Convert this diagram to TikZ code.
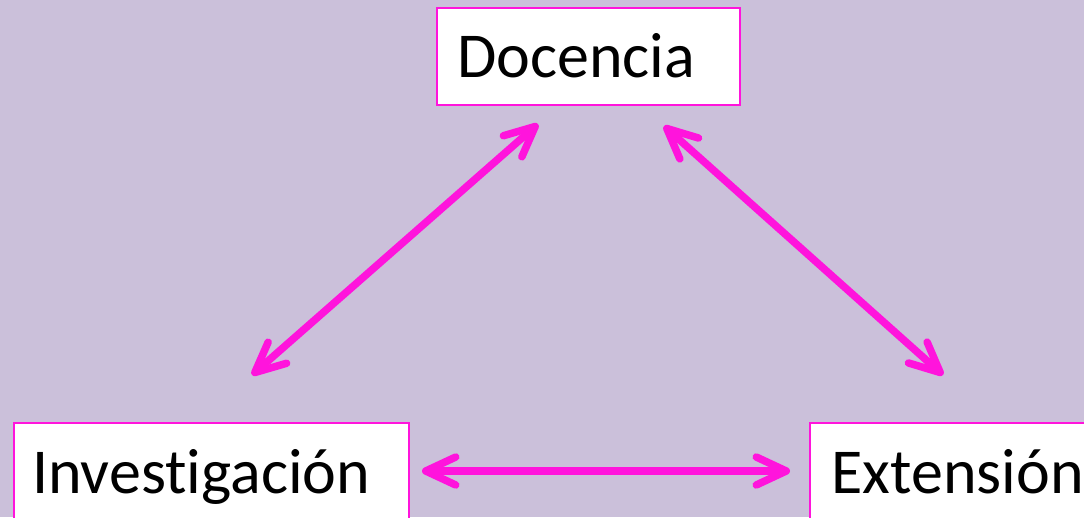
\documentclass[tikz,border=0pt]{standalone}
\usepackage{fontspec}
\setmainfont{Carlito}[Ligatures=NoCommon]
\usetikzlibrary{arrows.meta}
\definecolor{bg}{HTML}{CBC0DA}
\definecolor{mag}{HTML}{FF14DC}
\begin{document}
\begin{tikzpicture}[x=1pt,y=-1pt,
  box/.style={draw=mag, line width=1.5pt, fill=white, inner sep=0pt, anchor=north west},
  lbl/.style={anchor=base west, inner sep=0pt, font=\fontsize{64}{70}\selectfont},
  barb/.tip={Straight Barb[length=30pt,width=28pt,line cap=round,line join=round]},
  conn/.style={draw=mag, line width=7.5pt, line cap=round, barb-barb}]
\fill[bg] (0,0) rectangle (1084,517);
\useasboundingbox (0,0) rectangle (1084,517);
\clip (0,0) rectangle (1084,517);
\node[box, minimum width=303pt, minimum height=97pt] (docbox) at (436,7) {};
\node[box, minimum width=395pt, minimum height=120pt] (invbox) at (13,422) {};
\node[box, minimum width=300pt, minimum height=120pt] (extbox) at (809,422) {};
\node[lbl] (doc) at (457,77) {Docencia};
\node[lbl] (inv) at (32,493) {Investigación};
\node[lbl] (ext) at (831,493) {Extensión};
\coordinate (d1) at (538,124);
\coordinate (i1) at (252,375);
\coordinate (d2) at (664,126);
\coordinate (e1) at (943,375);
\coordinate (i2) at (422,471);
\coordinate (e2) at (790,471);
\draw[conn] (d1) -- (i1);
\draw[conn] (d2) -- (e1);
\draw[conn] (i2) -- (e2);
\end{tikzpicture}
\end{document}
